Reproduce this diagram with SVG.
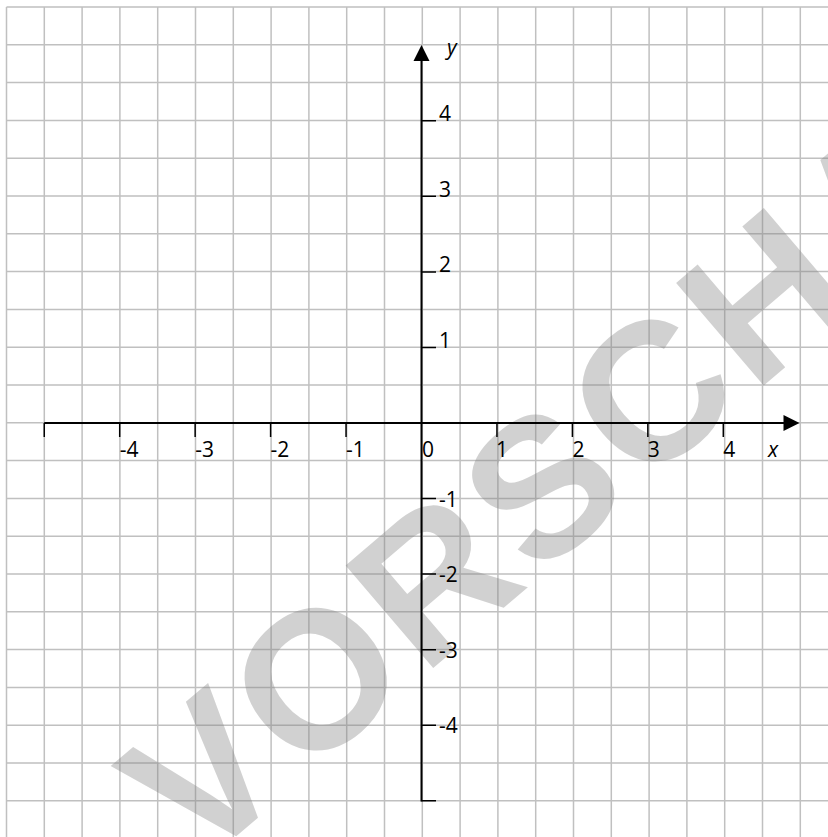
<svg xmlns="http://www.w3.org/2000/svg" width="828" height="837" viewBox="0 0 828 837">
<style>
.grid{stroke:#c0c0c0;stroke-width:1.5;fill:none}
.axis{stroke:#000;stroke-width:2;fill:none}
.tick{stroke:#000;stroke-width:1.5;fill:none}
.lbl{font-family:"Open Sans","Liberation Sans",sans-serif;font-size:21px;fill:#000}
.var{font-family:"Open Sans","Liberation Sans",sans-serif;font-size:21px;font-style:italic;fill:#000}
.wm{font-family:"Liberation Sans",Arial,sans-serif;font-weight:bold;font-size:196px;letter-spacing:7px;fill:#808080;fill-opacity:0.36}
</style>
<rect x="0" y="0" width="828" height="837" fill="#fff"/>
<g id="grid" class="grid">
<path d="M6.5 7V837M44.3 7V837M82.1 7V837M119.9 7V837M157.7 7V837M195.5 7V837M233.3 7V837M271.1 7V837M308.9 7V837M346.7 7V837M384.5 7V837M422.3 7V837M460.1 7V837M497.9 7V837M535.7 7V837M573.5 7V837M611.3 7V837M649.1 7V837M686.9 7V837M724.7 7V837M762.5 7V837M800.3 7V837"/>
<path d="M6.5 7H828M6.5 44.8H828M6.5 82.6H828M6.5 120.4H828M6.5 158.2H828M6.5 196H828M6.5 233.8H828M6.5 271.6H828M6.5 309.4H828M6.5 347.2H828M6.5 385H828M6.5 422.8H828M6.5 460.6H828M6.5 498.4H828M6.5 536.2H828M6.5 574H828M6.5 611.8H828M6.5 649.6H828M6.5 687.4H828M6.5 725.2H828M6.5 763H828M6.5 800.8H828"/>
</g>
<g id="watermark">
<text class="wm" transform="translate(197.2 869.5) rotate(-40.5)">VORSCHAU</text>
</g>
<g id="x-axis">
<line class="axis" x1="44.25" y1="423" x2="786" y2="423"/>
<polygon points="799.5,423 783.5,415 783.5,431" fill="#000"/>
<path class="tick" d="M44.25 423V437M119.7 423V437M195.15 423V437M270.6 423V437M346.05 423V437M496.95 423V437M572.4 423V437M647.85 423V437M723.3 423V437"/>
<text class="lbl" x="119.7" y="457">-4</text>
<text class="lbl" x="195.15" y="457">-3</text>
<text class="lbl" x="270.6" y="457">-2</text>
<text class="lbl" x="346.05" y="457">-1</text>
<text class="lbl" x="422" y="457">0</text>
<text class="lbl" x="496" y="457">1</text>
<text class="lbl" x="572.4" y="457">2</text>
<text class="lbl" x="647.85" y="457">3</text>
<text class="lbl" x="723.3" y="457">4</text>
<text class="var" x="768" y="457">x</text>
</g>
<g id="y-axis">
<line class="axis" x1="421.5" y1="59" x2="421.5" y2="801.5"/>
<polygon points="421.5,45 413.5,61 429.5,61" fill="#000"/>
<path class="tick" d="M421.5 120.8H436M421.5 196.35H436M421.5 271.9H436M421.5 347.45H436M421.5 423H436M421.5 498.55H436M421.5 574.1H436M421.5 649.65H436M421.5 725.2H436M421.5 800.75H436"/>
<text class="lbl" x="439" y="121">4</text>
<text class="lbl" x="439" y="196.5">3</text>
<text class="lbl" x="439" y="272">2</text>
<text class="lbl" x="439" y="347.5">1</text>
<text class="lbl" x="439" y="506.5">-1</text>
<text class="lbl" x="439" y="582">-2</text>
<text class="lbl" x="439" y="657.5">-3</text>
<text class="lbl" x="439" y="733">-4</text>
<text class="var" x="447" y="55">y</text>
</g>
</svg>
